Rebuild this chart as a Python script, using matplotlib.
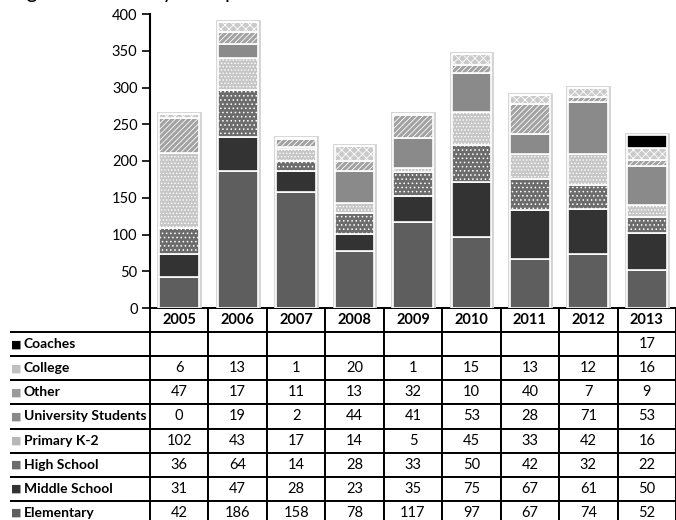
import numpy as np
import matplotlib
matplotlib.use("Agg")
import matplotlib.pyplot as plt

plt.rcParams['font.family'] = ['Lato', 'DejaVu Sans']
plt.rcParams['hatch.linewidth'] = 0.6

years = ['2005', '2006', '2007', '2008', '2009', '2010', '2011', '2012', '2013']

# stacking order, bottom to top
groups = ['Elementary', 'Middle School', 'High School', 'Primary K-2',
          'University Students', 'Other', 'College', 'Coaches']
elementary = [42, 186, 158, 78, 117, 97, 67, 74, 52]
middle_school = [31, 47, 28, 23, 35, 75, 67, 61, 50]
high_school = [36, 64, 14, 28, 33, 50, 42, 32, 22]
primary_k2 = [102, 43, 17, 14, 5, 45, 33, 42, 16]
university = [0, 19, 2, 44, 41, 53, 28, 71, 53]
other = [47, 17, 11, 13, 32, 10, 40, 7, 9]
college = [6, 13, 1, 20, 1, 15, 13, 12, 16]
coaches = [None, None, None, None, None, None, None, None, 17]

series = [elementary, middle_school, high_school, primary_k2,
          university, other, college, coaches]
faces = ['#5e5e5e', '#333333', '#6c6c6c', '#c6c6c6',
         '#8a8a8a', '#a2a2a2', '#cacaca', '#000000']
hatches = [None, None, '....', '.....', None, '//////', 'xxxx', None]
swatch = ['#5e5e5e', '#333333', '#6c6c6c', '#b8b8b8',
          '#8a8a8a', '#9a9a9a', '#c0c0c0', '#000000']

fig = plt.figure(figsize=(6.76, 5.2), dpi=100)
W, H = 676.0, 520.0
ax = fig.add_axes([150 / W, 1 - 308 / H, 526 / W, 294 / H])

x = np.arange(len(years))
width = 0.68
totals = np.zeros(len(years))
for vals in series:
    totals += np.array([v or 0 for v in vals])

# soft grey outline behind each column
ax.bar(x, totals, width, color='white', edgecolor='#d4d4d4', linewidth=3.5, zorder=1)

bottom = np.zeros(len(years))
for vals, fc, h in zip(series, faces, hatches):
    v = np.array([a or 0 for a in vals], dtype=float)
    ax.bar(x, v, width, bottom=bottom, color=fc, edgecolor='white',
           linewidth=1.2, hatch=h, zorder=2)
    bottom += v

ax.set_xlim(-0.5, len(years) - 0.5)
ax.set_ylim(0, 400)
ax.set_yticks(np.arange(0, 401, 50))
ax.tick_params(axis='y', length=6, width=1.2, labelsize=10.5, pad=3)
ax.set_xticks([])
for s in ['top', 'right', 'bottom']:
    ax.spines[s].set_visible(False)
ax.spines['left'].set_linewidth(1.5)

# data table below the columns; first column holds the group names
row_names = groups[::-1]
cells = []
for name, vals in zip(row_names, series[::-1]):
    cells.append([name] + ['' if v is None else str(v) for v in vals])

lab_w = 140 / 526
col_w = 1 / len(years)
tab_h = 217 / 294
tbl = ax.table(cellText=cells, colLabels=[''] + years, cellLoc='center',
               colWidths=[lab_w] + [col_w] * len(years),
               bbox=[-lab_w, -tab_h, 1 + lab_w, tab_h])
tbl.auto_set_font_size(False)
tbl.set_fontsize(10.5)
for (r, c), cell in tbl.get_celld().items():
    cell.set_linewidth(1.4)
    if c == 0:
        cell.visible_edges = 'TB' if r > 0 else ''
        cell.get_text().set_horizontalalignment('left')
        cell.get_text().set_fontsize(10)
        cell.PAD = 0.1
        cell.get_text().set_fontweight('bold')
    if r == 0:
        cell.get_text().set_fontweight('bold')

# legend swatches in the group name column
row_h = tab_h / (len(row_names) + 1)
for i, col in enumerate(swatch[::-1]):
    yc = -row_h * (i + 1.5)
    ax.text(-lab_w + 6 / 526, yc, '■', color=col, fontsize=8,
            ha='center', va='center', transform=ax.transAxes,
            family='DejaVu Sans', clip_on=False)

fig.text(10 / W, 1 + 2.5 / H, 'Figure 2: Visits by Group and Year',
         fontsize=15, va='baseline', ha='left')

fig.savefig('out.png', dpi=100)
